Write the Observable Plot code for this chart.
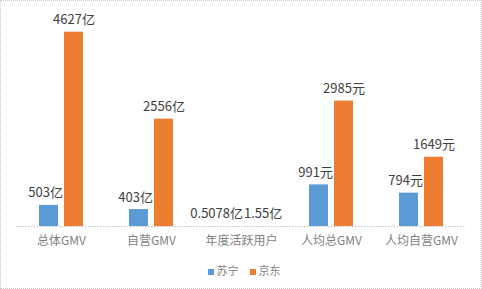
<!DOCTYPE html>
<html>
<head>
<meta charset="utf-8">
<script src="https://cdn.jsdelivr.net/npm/d3@7"></script>
<script src="https://cdn.jsdelivr.net/npm/@observablehq/plot@0.6"></script>
<style>
  html, body { margin: 0; padding: 0; background: #fff; }
  #wrap { position: relative; width: 482px; height: 289px; outline: 1px dotted #c8c8c8; outline-offset: -1px; overflow: hidden; font-family: "Noto Sans CJK SC", "Noto Sans", sans-serif; }
  #wrap svg { display: block; }
  .legend { display: flex; justify-content: center; align-items: center; gap: 11px; margin-top: 8px; padding-left: 6px; font-size: 11px; line-height: 14px; color: #7f7f7f; }
  .legend span.sw { display: inline-block; width: 6px; height: 6px; margin-right: 3px; vertical-align: middle; }
</style>
</head>
<body>
<div id="wrap"></div>
<script>
const categories = ["总体GMV", "自营GMV", "年度活跃用户", "人均总GMV", "人均自营GMV"];
const series = ["苏宁", "京东"];
const suningValues = [503, 403, 0.5078, 991, 794];
const jdValues = [4627, 2556, 1.55, 2985, 1649];
const suningLabels = ["503亿", "403亿", "0.5078亿", "991元", "794元"];
const jdLabels = ["4627亿", "2556亿", "1.55亿", "2985元", "1649元"];
const colors = ["#5B9BD5", "#ED7D31"];

const data = categories.flatMap((c, i) => [
  {category: c, series: series[0], value: suningValues[i], label: suningLabels[i]},
  {category: c, series: series[1], value: jdValues[i], label: jdLabels[i]}
]);

const chart = Plot.plot({
  width: 482,
  height: 255,
  marginLeft: 16,
  marginRight: 16,
  marginTop: 16,
  marginBottom: 29,
  style: {fontFamily: '"Noto Sans CJK SC", "Noto Sans", sans-serif', fontSize: "12px", color: "#7f7f7f", background: "transparent"},
  fx: {domain: categories, padding: 0, label: null, axis: "bottom", tickSize: 0, tickPadding: 10},
  x: {domain: series, paddingInner: 0.23, paddingOuter: 0.846, axis: null},
  y: {domain: [0, 5000], axis: null},
  color: {domain: series, range: colors},
  marks: [
    Plot.ruleY([0], {stroke: "#c0c0c0", strokeDasharray: "1.5,1.5"}),
    Plot.barY(data, {fx: "category", x: "series", y: "value", fill: "series"}),
    Plot.text(data.filter(d => d.series === series[0]), {
      fx: "category", x: "series", y: "value", text: "label",
      textAnchor: "end", dx: 14, dy: -8, lineAnchor: "bottom",
      fontSize: 13, fill: "#404040"
    }),
    Plot.text(data.filter(d => d.series === series[1]), {
      fx: "category", x: "series", y: "value", text: "label",
      textAnchor: "middle", dy: -8, lineAnchor: "bottom",
      fontSize: 13, fill: "#404040"
    })
  ]
});

const wrap = document.getElementById("wrap");
wrap.appendChild(chart);

// legend below the SVG
const legend = document.createElement("div");
legend.className = "legend";
series.forEach((s, i) => {
  const item = document.createElement("div");
  const sw = document.createElement("span");
  sw.className = "sw";
  sw.style.background = colors[i];
  item.appendChild(sw);
  item.appendChild(document.createTextNode(s));
  legend.appendChild(item);
});
wrap.appendChild(legend);

// push overlapping labels apart (like the spreadsheet renderer does)
const allTexts = [...chart.querySelectorAll("text")];
const su = allTexts.filter(t => suningLabels.includes(t.textContent));
const jd = allTexts.filter(t => jdLabels.includes(t.textContent));
jd.forEach(t => {
  const r = t.getBoundingClientRect();
  su.forEach(s => {
    const q = s.getBoundingClientRect();
    const vOverlap = r.top < q.bottom && q.top < r.bottom;
    if (vOverlap && r.left < q.right && q.left < r.right) {
      const shift = q.right - r.left + 1;
      const tr = t.getAttribute("transform");
      t.setAttribute("transform", (tr ? tr + " " : "") + `translate(${shift},0)`);
    }
  });
});
</script>
</body>
</html>
